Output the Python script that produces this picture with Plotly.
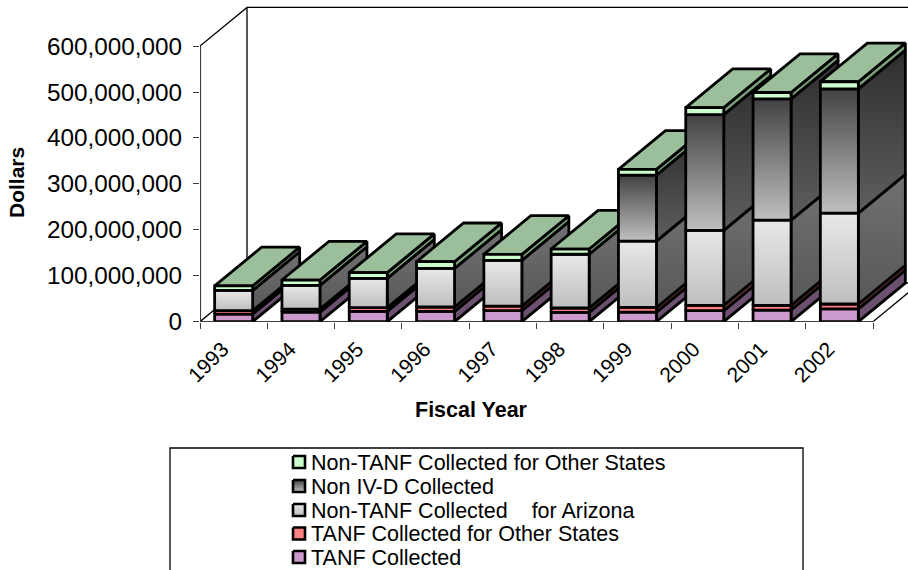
import plotly.graph_objects as go

years = ["1993", "1994", "1995", "1996", "1997", "1998", "1999", "2000", "2001", "2002"]
tanf_collected = [16.7e6, 21e6, 22.5e6, 22.5e6, 24e6, 20.4e6, 21e6, 24e6, 25.4e6, 28e6]
tanf_other = [7.3e6, 6.5e6, 8e6, 9.5e6, 10e6, 9.4e6, 10e6, 11.6e6, 10.2e6, 10.5e6]
non_tanf_az = [44e6, 51.5e6, 64e6, 84e6, 99.5e6, 117e6, 144.6e6, 163.4e6, 185.4e6, 198e6]
non_ivd = [0, 0, 0, 0, 0, 0, 143.6e6, 252e6, 264e6, 270.4e6]
non_tanf_other = [10e6, 11.7e6, 12.4e6, 14.6e6, 13e6, 11.4e6, 12.4e6, 15e6, 14e6, 15.5e6]
y_ticks = [0, 100e6, 200e6, 300e6, 400e6, 500e6, 600e6]

# stacked bottom-up: name, values, front low/high colours, side low/high colours
series = [
    ("TANF Collected", tanf_collected, "#CC99CC", "#CC99CC", "#6B5070", "#6B5070"),
    ("TANF Collected for Other States", tanf_other, "#FF8080", "#FF8080", "#804040", "#804040"),
    ("Non-TANF Collected\u00a0\u00a0\u00a0 for Arizona", non_tanf_az, "#BEBEBE", "#E8E8E8", "#585858", "#707070"),
    ("Non IV-D Collected", non_ivd, "#C0C0C0", "#424242", "#5E5E5E", "#2E2E2E"),
    ("Non-TANF Collected for Other States", non_tanf_other, "#CCFFCC", "#CCFFCC", "#7AA07A", "#7AA07A"),
]
TOP_FACE = "#9BBF9B"
LEGEND_ORDER = [4, 3, 2, 1, 0]

# projection of the chart's depth axis, in data units
PX_PER_CAT = 67.3
PX_PER_USD = 45.93 / 100e6
DEPTH_X = 47 / PX_PER_CAT
DEPTH_Y = 38.7 / PX_PER_USD
HALF_W = 19 / PX_PER_CAT
LW = 2.8

fig = go.Figure()


def poly(xs, ys, lo, hi, lw=LW):
    kw = dict(fillcolor=lo) if lo == hi else dict(
        fillgradient=dict(type="vertical", colorscale=[[0, lo], [1, hi]]))
    fig.add_trace(go.Scatter(x=xs + xs[:1], y=ys + ys[:1], mode="lines", fill="toself",
                             line=dict(color="black", width=lw), cliponaxis=False,
                             hoverinfo="skip", showlegend=False, **kw))


def line(xs, ys, color="black", width=1.5):
    fig.add_trace(go.Scatter(x=xs, y=ys, mode="lines", line=dict(color=color, width=width),
                             cliponaxis=False, hoverinfo="skip", showlegend=False))


# walls and floor
x0, x1 = -0.5, len(years) - 0.5
ymax = y_ticks[-1]
line([x0, x0 + DEPTH_X, x1 + DEPTH_X], [ymax, ymax + DEPTH_Y, ymax + DEPTH_Y], width=1.3)
line([x0 + DEPTH_X, x0 + DEPTH_X, x1 + DEPTH_X], [ymax + DEPTH_Y, DEPTH_Y, DEPTH_Y], width=1.3)
line([x0, x0 + DEPTH_X], [0, DEPTH_Y], width=1.3)
line([x1, x1 + DEPTH_X], [0, DEPTH_Y], width=1.3)
line([x0, x1], [0, 0], width=1.5)
line([x0, x0], [0, ymax], color="#404040", width=2.2)

# bars, left to right so nearer columns overlap earlier sides
for i in range(len(years)):
    left, right = i - HALF_W, i + HALF_W
    bottom = 0
    spans = []
    for (_, vals, flo, fhi, slo, shi) in series:
        top = bottom + vals[i]
        spans.append((bottom, top, flo, fhi, slo, shi))
        bottom = top
    for (b, t, flo, fhi, slo, shi) in spans:
        if t > b:
            poly([right, right + DEPTH_X, right + DEPTH_X, right],
                 [b, b + DEPTH_Y, t + DEPTH_Y, t], slo, shi)
    total = spans[-1][1]
    poly([left, right, right + DEPTH_X, left + DEPTH_X],
         [total, total, total + DEPTH_Y, total + DEPTH_Y], TOP_FACE, TOP_FACE)
    for (b, t, flo, fhi, slo, shi) in spans:
        if t > b:
            poly([left, right, right, left], [b, b, t, t], flo, fhi)

# legend frame, swatches and labels on a page-pixel overlay
LEG_Y = [462, 486, 510, 533.5, 557]
fig.add_trace(go.Scatter(x=[170, 170, 803, 803], y=[575, 448, 448, 575], mode="lines",
                         line=dict(color="black", width=1.3), xaxis="x2", yaxis="y2",
                         hoverinfo="skip", showlegend=False))
for idx, yc in zip(LEGEND_ORDER, LEG_Y):
    name, _, flo, fhi, _, _ = series[idx]
    kw = dict(fillcolor=flo) if flo == fhi else dict(
        fillgradient=dict(type="vertical", colorscale=[[0, flo], [1, fhi]]))
    fig.add_trace(go.Scatter(x=[293, 305, 305, 293, 293], y=[yc - 6, yc - 6, yc + 6, yc + 6, yc - 6],
                             mode="lines", fill="toself", line=dict(color="black", width=2.6),
                             xaxis="x2", yaxis="y2", hoverinfo="skip", showlegend=False, **kw))
    fig.add_annotation(x=309, y=yc + 0.5, xref="x2", yref="y2", text=name, showarrow=False,
                       xanchor="left", yanchor="middle", font=dict(size=21.5, color="black"))

fig.add_annotation(x=16, y=183, xref="x2", yref="y2", text="<b>Dollars</b>", textangle=-90,
                   showarrow=False, font=dict(size=21, color="black"))
fig.add_annotation(x=471, y=410, xref="x2", yref="y2", text="<b>Fiscal Year</b>",
                   showarrow=False, font=dict(size=21.5, color="black"))

fig.update_layout(
    width=908, height=570, margin=dict(l=0, r=0, t=0, b=0), autosize=False,
    paper_bgcolor="white", plot_bgcolor="rgba(0,0,0,0)", showlegend=False,
    font=dict(family="Liberation Sans, Arial, sans-serif", color="black"),
    xaxis=dict(domain=[200 / 908, 1], range=[x0, x0 + 708 / PX_PER_CAT], automargin=False,
               tickmode="array", tickvals=list(range(len(years))), ticktext=years,
               tickangle=-45, ticks="", showgrid=False, zeroline=False, showline=False,
               tickfont=dict(size=21), ticklabelstandoff=10, ticklabelshift=-11,
               minor=dict(tickmode="array", tickvals=[k - 0.5 for k in range(len(years) + 1)],
                          ticks="outside", ticklen=6, tickwidth=1, tickcolor="#404040", showgrid=False)),
    yaxis=dict(domain=[(570 - 321.7) / 570, (570 - 5) / 570], range=[0, (321.7 - 5) / PX_PER_USD],
               automargin=False, tickmode="array", tickvals=y_ticks, tickformat=",", ticks="outside",
               ticklen=6, tickwidth=1, tickcolor="#404040", showgrid=False, zeroline=False,
               showline=False, tickfont=dict(size=24.3), ticklabelstandoff=6),
    xaxis2=dict(domain=[0, 1], range=[0, 908], visible=False, anchor="y2", fixedrange=True, automargin=False),
    yaxis2=dict(domain=[0, 1], range=[570, 0], visible=False, anchor="x2", fixedrange=True, automargin=False),
)

fig.write_html("out.html", config={"displayModeBar": False},
               post_script="document.body.style.margin='0';")
